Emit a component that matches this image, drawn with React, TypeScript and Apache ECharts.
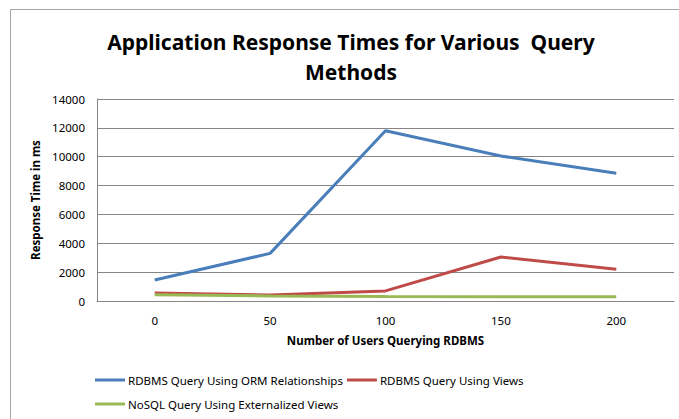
import React, { useEffect, useRef } from "react";
import * as echarts from "echarts";

const categories = ["0", "50", "100", "150", "200"];
const seriesNames = [
  "RDBMS Query Using ORM Relationships",
  "RDBMS Query Using Views",
  "NoSQL Query Using Externalized Views",
];
const ormValues = [1450, 3300, 11800, 10050, 8850];
const viewsValues = [550, 420, 700, 3050, 2200];
const nosqlValues = [430, 350, 320, 300, 300];
const colors = ["#4A7EBB", "#BE4B48", "#98B954"];

const FONT = "'Noto Sans', 'Open Sans', sans-serif";

export default function App() {
  const ref = useRef<HTMLDivElement>(null);
  useEffect(() => {
    if (!ref.current) return;
    const chart = echarts.init(ref.current, null, { renderer: "svg" });
    const values = [ormValues, viewsValues, nosqlValues];
    chart.setOption({
      animation: false,
      backgroundColor: "#ffffff",
      title: {
        text: "Application Response Times for Various  Query\nMethods",
        left: 346,
        top: 22,
        textAlign: "center",
        textStyle: {
          fontFamily: FONT,
          fontSize: 21,
          fontWeight: "bold",
          color: "#000",
          lineHeight: 30,
        },
      },
      graphic: [
        {
          type: "rect",
          shape: { x: 10.5, y: 9.5, width: 700, height: 450 },
          style: { fill: "none", stroke: "#a6a6a6", lineWidth: 1 },
          silent: true,
        },
      ],
      grid: { left: 97, right: 5, top: 99, bottom: 118 },
      xAxis: {
        type: "category",
        data: categories,
        boundaryGap: true,
        name: "Number of Users Querying RDBMS",
        nameLocation: "middle",
        nameGap: 33,
        nameTextStyle: { fontFamily: FONT, fontSize: 11.5, fontWeight: "bold", color: "#000" },
        axisLine: { lineStyle: { color: "#868686" } },
        axisTick: { show: false },
        axisLabel: { fontFamily: FONT, fontSize: 11.5, color: "#000", margin: 13 },
        splitLine: { show: false },
      },
      yAxis: {
        type: "value",
        min: 0,
        max: 14000,
        interval: 2000,
        name: "Response Time in ms",
        nameLocation: "middle",
        nameGap: 56,
        nameTextStyle: { fontFamily: FONT, fontSize: 11.5, fontWeight: "bold", color: "#000" },
        axisLine: { show: true, lineStyle: { color: "#868686" } },
        axisTick: { show: false },
        axisLabel: {
          fontFamily: FONT,
          fontSize: 11.5,
          color: "#000",
          margin: 12,
          formatter: (v: number) => String(v),
        },
        splitLine: { lineStyle: { color: "#868686", width: 1 } },
      },
      legend: [
        {
          data: [seriesNames[0], seriesNames[1]],
          left: 90,
          top: 369,
          orient: "horizontal",
          icon: "rect",
          itemWidth: 30,
          itemHeight: 3,
          itemGap: 4,
          textStyle: { fontFamily: FONT, fontSize: 11.5, color: "#000", padding: [0, 0, 0, -2] },
        },
        {
          data: [seriesNames[2]],
          left: 90,
          top: 393,
          orient: "horizontal",
          icon: "rect",
          itemWidth: 30,
          itemHeight: 3,
          itemGap: 4,
          textStyle: { fontFamily: FONT, fontSize: 11.5, color: "#000", padding: [0, 0, 0, -2] },
        },
      ],
      series: seriesNames.map((name, i) => ({
        name,
        type: "line",
        data: values[i],
        symbol: "none",
        color: colors[i],
        lineStyle: { color: colors[i], width: 3 },
      })),
    });
    return () => chart.dispose();
  }, []);
  return (
    <div
      ref={ref}
      style={{ position: "fixed", left: 0, top: 0, width: 679, height: 419 }}
    />
  );
}
